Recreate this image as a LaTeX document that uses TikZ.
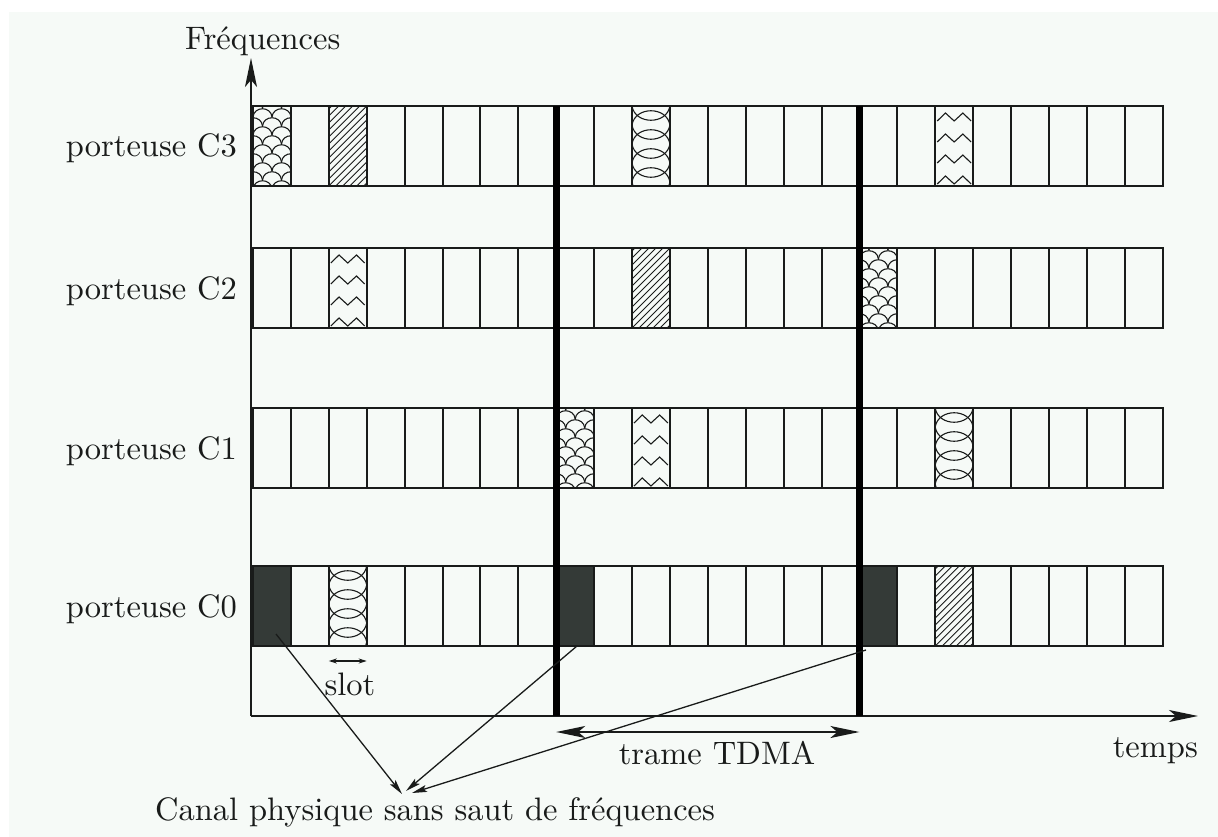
\documentclass[tikz,border=0pt]{standalone}
\usepackage{fontspec}
\setmainfont{lmroman10-regular}[Extension=.otf]
\usetikzlibrary{arrows.meta}

\definecolor{paper}{RGB}{246,250,247}
\definecolor{ink}{RGB}{25,27,26}
\definecolor{burst}{RGB}{52,58,55}

% slot grid: left edge, slot width, carrier height
\newcommand\Xo{253}
\newcommand\Wd{37.9}
\newcommand\Ht{80}

\tikzset{
  x=1pt, y=-1pt,
  every node/.style={font=\fontsize{32.5}{39}\selectfont, text=ink, inner sep=0pt},
  gridline/.style={draw=ink, line width=2pt},
  hatchline/.style={draw=ink, line width=1.1pt},
  framebar/.style={draw=black, line width=7pt},
  axis/.style={draw=ink, line width=1.8pt, -{Stealth[length=29pt,width=12pt,inset=7pt]}},
  span/.style={draw=ink, line width=1.8pt, {Stealth[length=29pt,width=12pt,inset=7pt]}-{Stealth[length=29pt,width=12pt,inset=7pt]}},
  slotspan/.style={draw=ink, line width=1.2pt, {Stealth[length=8pt,width=5pt]}-{Stealth[length=8pt,width=5pt]}},
  pointer/.style={draw=ink, line width=1.3pt, -{Stealth[length=15pt,width=7pt,inset=3pt]}},
  burstslot/.style={fill=burst, minimum width=\Wd pt, minimum height=\Ht pt, inner sep=0pt},
}

% fish-scale filling of slot #1 on the carrier whose top is #2
\newcommand\PScales[2]{%
  \pgfmathsetmacro\pl{\Xo+#1*\Wd}
  \begin{scope}
    \clip (\pl,#2) rectangle (\pl+\Wd,#2+\Ht);
    \foreach \rw in {0,...,10}{
      \pgfmathsetmacro\yy{#2+\rw*9+2}
      \pgfmathsetmacro\sh{mod(\rw,2)*9.5-9.5}
      \foreach \cl in {0,1,2}{
        \pgfmathsetmacro\xa{\pl+\sh+\cl*19}
        \draw[hatchline] (\xa,\yy) .. controls (\xa+1,\yy-11) and (\xa+18,\yy-11) .. (\xa+19,\yy);
      }
    }
  \end{scope}}

% interlaced arcs
\newcommand\PLattice[2]{%
  \pgfmathsetmacro\pl{\Xo+#1*\Wd}
  \pgfmathsetmacro\pr{\pl+\Wd}
  \begin{scope}
    \clip (\pl,#2) rectangle (\pr,#2+\Ht);
    \foreach \k in {-1,...,4}{
      \pgfmathsetmacro\yy{#2+\k*19}
      \draw[hatchline] (\pl,\yy) .. controls (\pl+3,\yy+19) and (\pr-3,\yy+19) .. (\pr,\yy);
      \draw[hatchline] (\pl,\yy+19) .. controls (\pl+3,\yy) and (\pr-3,\yy) .. (\pr,\yy+19);
    }
  \end{scope}}

% zigzag lines
\newcommand\PZigzag[2]{%
  \pgfmathsetmacro\pl{\Xo+#1*\Wd}
  \foreach \k in {0,...,3}{
    \pgfmathsetmacro\yy{#2+11+\k*21}
    \draw[hatchline] (\pl+2,\yy+4) -- (\pl+0.27*\Wd,\yy-4) -- (\pl+0.5*\Wd,\yy+4)
      -- (\pl+0.73*\Wd,\yy-4) -- (\pl+\Wd-2,\yy+4);
  }}

% diagonal hatching
\newcommand\PHatch[2]{%
  \pgfmathsetmacro\pl{\Xo+#1*\Wd}
  \begin{scope}
    \clip (\pl,#2) rectangle (\pl+\Wd,#2+\Ht);
    \foreach \k in {-12,...,6}{
      \draw[hatchline, line width=0.9pt] (\pl+\k*7,#2+\Ht) -- (\pl+\k*7+\Ht,#2);
    }
  \end{scope}}

\begin{document}
\begin{tikzpicture}
  \useasboundingbox (0,0) rectangle (1218,837);
  \fill[white] (0,0) rectangle (1218,837);
  \fill[paper] (9,12) rectangle (1218,837);

  % carriers C3, C2, C1, C0 (tops at 106, 248, 408, 566)
  \PScales{0}{106}  \PHatch{2}{106}  \PLattice{10}{106} \PZigzag{18}{106}
  \PZigzag{2}{248}  \PHatch{10}{248} \PScales{16}{248}
  \PScales{8}{408}  \PZigzag{10}{408} \PLattice{18}{408}
  \PLattice{2}{566} \PHatch{18}{566}

  % burst of the physical channel in slot 0 of each frame
  \node[burstslot] (b0) at (\Xo+0.5*\Wd,606) {};
  \node[burstslot] (b8) at (\Xo+8.5*\Wd,606) {};
  \node[burstslot] (b16) at (\Xo+16.5*\Wd,606) {};

  \foreach \top in {106,248,408,566}{
    \draw[gridline] (\Xo,\top) rectangle (\Xo+24*\Wd,\top+\Ht);
    \foreach \i in {1,...,23}{
      \draw[gridline] (\Xo+\i*\Wd,\top) -- (\Xo+\i*\Wd,\top+\Ht);
    }
  }

  % axes
  \coordinate (O) at (251,716);
  \coordinate (ftip) at (251,58);
  \coordinate (ttip) at (1198,716);
  \draw[axis] (O) -- (ftip);
  \draw[axis] (O) -- (ttip);

  % TDMA frame boundaries
  \coordinate (fa) at (\Xo+8*\Wd,106);
  \coordinate (fb) at (\Xo+16*\Wd,106);
  \draw[framebar] (fa) -- (fa |- O);
  \draw[framebar] (fb) -- (fb |- O);

  % labels
  \node[anchor=base west] (freq) at (185,50) {Fréquences};
  \node[anchor=base east] (c3) at (237,157) {porteuse C3};
  \node[anchor=base east] (c2) at (237,299) {porteuse C2};
  \node[anchor=base east] (c1) at (237,459) {porteuse C1};
  \node[anchor=base east] (c0) at (237,617) {porteuse C0};
  \node[anchor=base east] (temps) at (1198,757) {temps};

  % frame length
  \coordinate (ta) at (\Xo+8*\Wd,732);
  \coordinate (tb) at (\Xo+16*\Wd,732);
  \draw[span] (ta) -- (tb);
  \node[anchor=base] (trame) at (717,764) {trame TDMA};

  % slot length
  \coordinate (sa) at (\Xo+2*\Wd,661);
  \coordinate (sb) at (\Xo+3*\Wd,661);
  \draw[slotspan] (sa) -- (sb);
  \node[anchor=base] (slot) at (350,695) {slot};

  % physical channel
  \node[anchor=base west] (canal) at (155,820) {Canal physique sans saut de fréquences};
  \coordinate (p0) at (276,634);
  \coordinate (p8) at (577,646);
  \coordinate (p16) at (866,650);
  \coordinate (q0) at (402,794);
  \coordinate (q8) at (406,791);
  \coordinate (q16) at (412,793);
  \draw[pointer] (p0) -- (q0);
  \draw[pointer] (p8) -- (q8);
  \draw[pointer] (p16) -- (q16);
\end{tikzpicture}
\end{document}
